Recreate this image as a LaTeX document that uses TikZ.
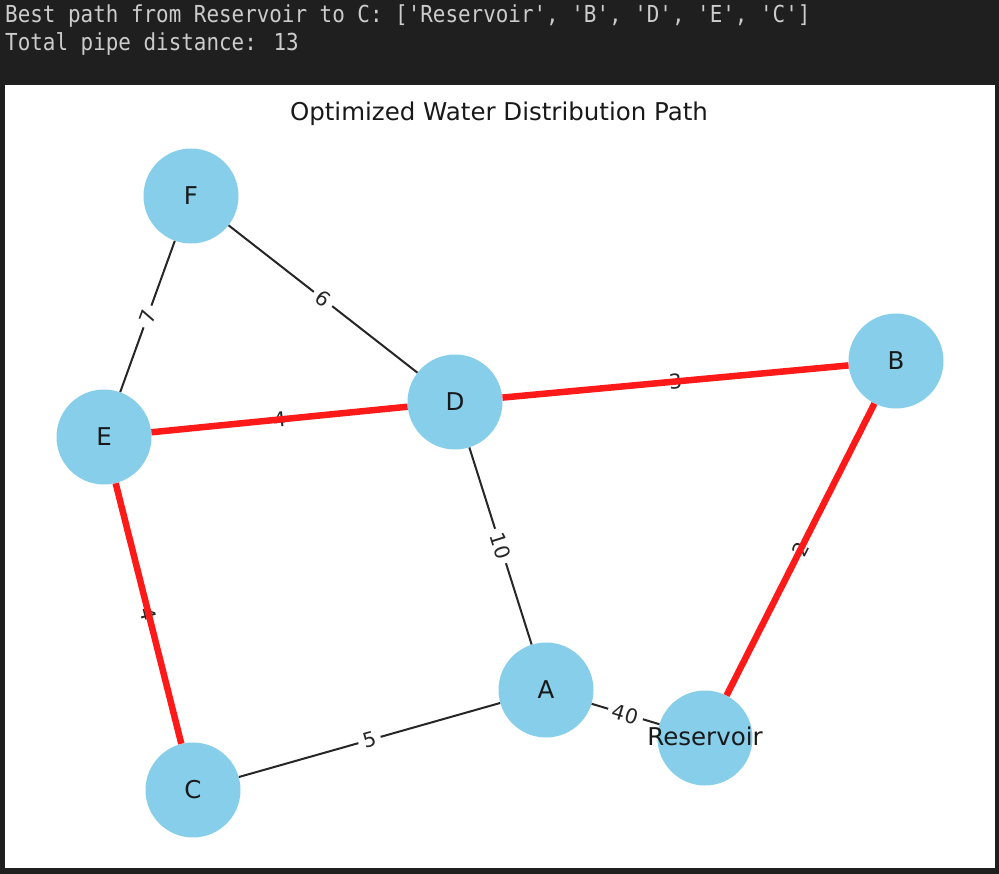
\documentclass[tikz,border=0pt]{standalone}
\usepackage{fontspec}
\setmainfont{DejaVu Sans}
\newfontfamily\termfont{DejaVu Sans Mono}[Ligatures=TeXOff]
\definecolor{skyblue}{HTML}{87CEEB}
\definecolor{termbg}{HTML}{1F1F1F}
\definecolor{termfg}{HTML}{CCCCCC}
\definecolor{pathred}{HTML}{FF1A1A}
\tikzset{
  gnode/.style={circle, fill=skyblue, minimum size=95pt, inner sep=0pt,
    font=\fontsize{24.5}{24.5}\selectfont, text=black!90},
  pipe/.style={draw=black!85, line width=2pt},
  bestpipe/.style={draw=pathred, line width=6.5pt},
  wlabel/.style={midway, sloped, fill=white, rounded corners=3pt, inner sep=5pt,
    font=\fontsize{20.4}{20.4}\selectfont, text=black!85},
  termtext/.style={anchor=base west, inner sep=0pt, text=termfg,
    font=\termfont\fontsize{20.9}{20.9}\selectfont}
}
\begin{document}
\begin{tikzpicture}[x=1pt,y=-1pt]
\fill[termbg] (0,0) rectangle (999,874);
\useasboundingbox (0,0) rectangle (999,874);
\fill[white] (5,85) rectangle (995,868);

\node[termtext] (line1) at (5,23) {\scalebox{1}[1.12]{Best path from Reservoir to C: ['Reservoir', 'B', 'D', 'E', 'C']}};
\node[termtext] (line2) at (5,51) {\scalebox{1}[1.12]{Total pipe distance: 13}};

\node[anchor=base, inner sep=0pt, font=\fontsize{24.5}{24.5}\selectfont, text=black!90] (title) at (499,121) {Optimized Water Distribution Path};

% nodes
\node[gnode] (F) at (191,196) {F};
\node[gnode] (E) at (104,437) {E};
\node[gnode] (D) at (455,402) {D};
\node[gnode] (B) at (896,361) {B};
\node[gnode] (A) at (546,690) {A};
\node[gnode] (R) at (705,738) {};
\node[gnode] (C) at (193,790) {C};

% ordinary pipes
\draw[pipe] (F) -- (E) node[wlabel] {7};
\draw[pipe] (F) -- (D) node[wlabel] {6};
\draw[pipe] (D) -- (A) node[wlabel] {10};
\draw[pipe] (C) -- (A) node[wlabel] {5};
\draw[pipe] (A) -- (R) node[wlabel] {40};

% labels of best path edges
\path (E) -- (D) node[wlabel] {4};
\path (D) -- (B) node[wlabel] {3};
\path (R) -- (B) node[wlabel] {2};
\path (E) -- (C) node[wlabel] {4};

% best path
\draw[bestpipe] (R) -- (B);
\draw[bestpipe] (B) -- (D);
\draw[bestpipe] (D) -- (E);
\draw[bestpipe] (E) -- (C);

\node[font=\fontsize{24.5}{24.5}\selectfont, text=black!90, inner sep=0pt] (Rlabel) at (705,736) {Reservoir};
\end{tikzpicture}
\end{document}
